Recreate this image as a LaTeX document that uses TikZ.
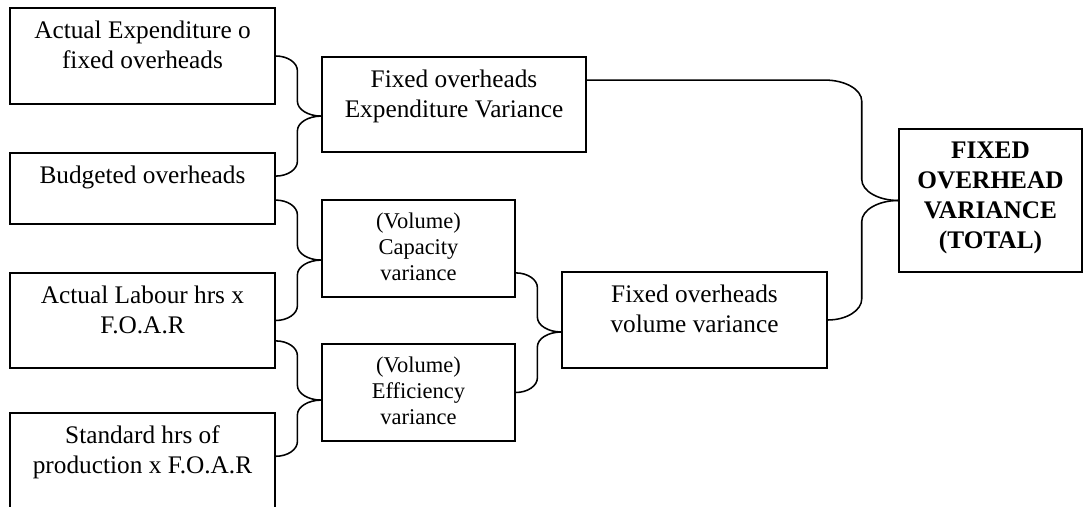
\documentclass[tikz,border=0pt]{standalone}
\usepackage{fontspec}
\setmainfont{Liberation Serif}
\usetikzlibrary{calc}

\begin{document}
\begin{tikzpicture}[x=1cm,y=1cm]
\tikzset{
  varbox/.style={draw,line width=1pt,inner sep=0pt,minimum width=6.625cm},
  boxtext/.style={anchor=north,align=center,inner xsep=2pt,inner ysep=9.5pt,font=\fontsize{18pt}{21.3pt}\selectfont},
  smalltext/.style={boxtext,font=\fontsize{16pt}{18.5pt}\selectfont},
  boldtext/.style={boxtext,font=\fontsize{18pt}{21.3pt}\selectfont\bfseries},
  link/.style={line width=1.1pt},
  brace/.style 2 args={to path={let \p1=(\tikztostart),\p2=(\tikztotarget),
      \n1={max(\x1,\x2-2*#1)},\n2={\x2-#1},\n3={ifthenelse(\y2>\y1,1,-1)*#2} in
      -- (\n1,\y1) .. controls ({\n1+0.55*(\n2-\n1)},\y1) and ({\n2},{\y1+0.45*\n3}) .. ({\n2},{\y1+\n3})
      -- ({\n2},{\y2-\n3}) .. controls ({\n2},{\y2-0.45*\n3}) and ({\n2+0.45*(\x2-\n2)},\y2) .. (\tikztotarget)}}
}
\useasboundingbox (0,0) rectangle (27.075,12.675);
\node[varbox,minimum height=2.4cm,label={[boxtext]north:Actual Expenditure o\\fixed overheads}] (n_actexp) at (3.5625,11.275) {};
\node[varbox,minimum height=1.775cm,label={[boxtext]north:Budgeted overheads}] (n_budovh) at (3.5625,7.9625) {};
\node[varbox,minimum height=2.375cm,label={[boxtext]north:Actual Labour hrs x\\F.O.A.R}] (n_actlab) at (3.5625,4.6625) {};
\node[varbox,minimum height=3.35cm,label={[boxtext]north:Standard hrs of\\production x F.O.A.R}] (n_stdhrs) at (3.5625,0.675) {};
\node[varbox,minimum width=6.6cm,minimum height=2.375cm,label={[boxtext]north:Fixed overheads\\Expenditure Variance}] (n_expvar) at (11.35,10.0625) {};
\node[varbox,minimum width=4.825cm,minimum height=2.425cm,label={[smalltext]north:(Volume)\\Capacity\\variance}] (n_capvar) at (10.4625,6.4625) {};
\node[varbox,minimum width=4.825cm,minimum height=2.425cm,label={[smalltext]north:(Volume)\\Efficiency\\variance}] (n_effvar) at (10.4625,2.8625) {};
\node[varbox,minimum height=2.4cm,label={[boxtext]north:Fixed overheads\\volume variance}] (n_volvar) at (17.3625,4.675) {};
\node[varbox,minimum width=4.575cm,minimum height=3.575cm,label={[boldtext]north:FIXED\\OVERHEAD\\VARIANCE\\(TOTAL)}] (n_totvar) at (24.7625,7.6625) {};
\draw[link] (n_actexp.east) to[brace={17pt}{10.5pt}] ([yshift=-0.29cm]n_expvar.west);
\draw[link] ([yshift=0.31cm]n_budovh.east) to[brace={17pt}{10.5pt}] ([yshift=-0.29cm]n_expvar.west);
\draw[link] ([yshift=-0.29cm]n_budovh.east) to[brace={17pt}{10.5pt}] ([yshift=-0.29cm]n_capvar.west);
\draw[link] (n_actlab.east) to[brace={17pt}{10.5pt}] ([yshift=-0.29cm]n_capvar.west);
\draw[link] ([yshift=-0.51cm]n_actlab.east) to[brace={17pt}{10.5pt}] ([yshift=-0.19cm]n_effvar.west);
\draw[link] ([yshift=-1.1cm]n_stdhrs.north east) to[brace={17pt}{10.5pt}] ([yshift=-0.19cm]n_effvar.west);
\draw[link] ([yshift=-0.61cm]n_capvar.east) to[brace={17pt}{10.5pt}] ([yshift=-0.3cm]n_volvar.west);
\draw[link] (n_effvar.east) to[brace={17pt}{10.5pt}] ([yshift=-0.3cm]n_volvar.west);
\draw[link] ([yshift=0.61cm]n_expvar.east) to[brace={26pt}{15pt}] (n_totvar.west);
\draw[link] (n_volvar.east) to[brace={26pt}{15pt}] (n_totvar.west);
\end{tikzpicture}
\end{document}
